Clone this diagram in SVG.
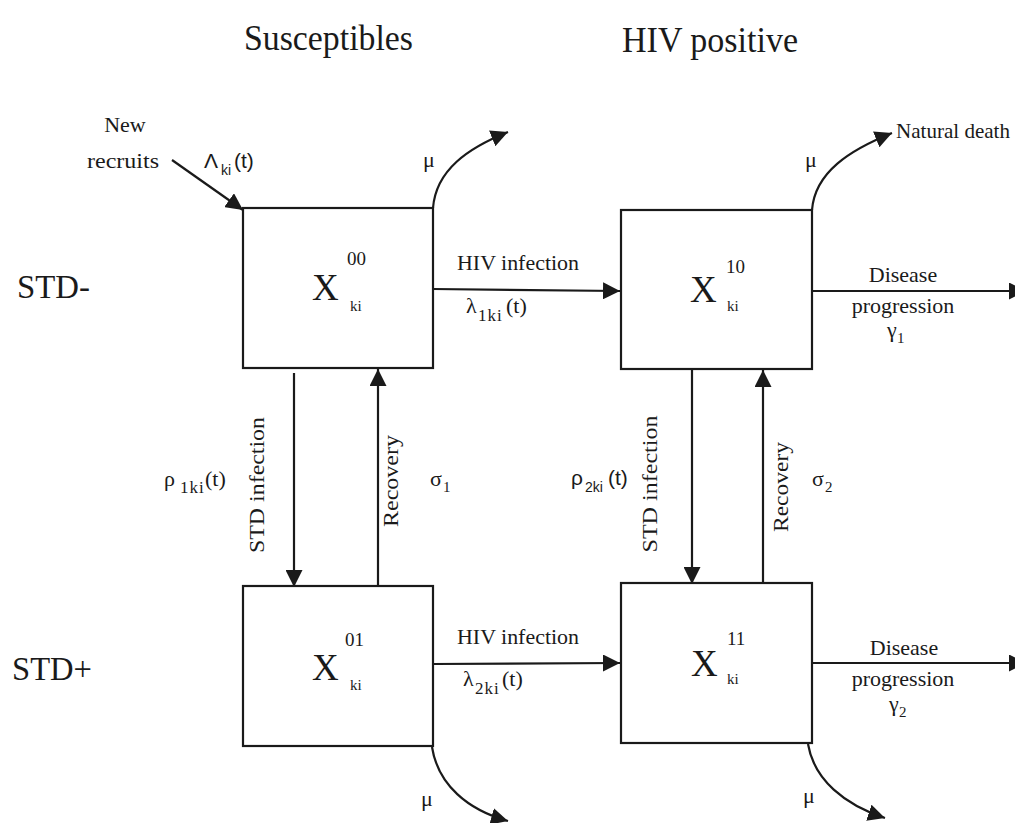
<svg xmlns="http://www.w3.org/2000/svg" width="1015" height="823" viewBox="0 0 1015 823">
<style>
  .box { fill: #ffffff; stroke: #1a1a1a; stroke-width: 2.2; }
  .ln { fill: none; stroke: #1a1a1a; stroke-width: 2.2; }
  .arr { marker-end: url(#ah); }
  text { fill: #1a1a1a; font-family: "Liberation Serif", "Times New Roman", serif; }
  .sans { font-family: "Liberation Sans", Arial, sans-serif; }
  .head { font-size: 35px; }
  .row { font-size: 34px; }
  .lbl { font-size: 22px; }
  .X { font-size: 37px; }
  .sup { font-size: 19px; }
  .sub { font-size: 15px; }
  .sub2 { font-size: 17px; letter-spacing: 1px; }
  .mid { text-anchor: middle; }
</style>
<defs>
  <marker id="ah" markerUnits="userSpaceOnUse" markerWidth="18" markerHeight="17" refX="17" refY="8.5" orient="auto">
    <path d="M0,0 L17,8.5 L0,17 Z" fill="#1a1a1a"/>
  </marker>
</defs>
<rect width="1015" height="823" fill="#ffffff"/>

<!-- headings -->
<text class="head" x="244" y="50" textLength="169" lengthAdjust="spacingAndGlyphs">Susceptibles</text>
<text class="head" x="622" y="52" textLength="176" lengthAdjust="spacingAndGlyphs">HIV positive</text>
<text class="row" x="17" y="298" textLength="73" lengthAdjust="spacingAndGlyphs">STD-</text>
<text class="row" x="12" y="680" textLength="80" lengthAdjust="spacingAndGlyphs">STD+</text>

<!-- connectors -->
<g id="connectors">
  <line class="ln arr" x1="172" y1="160" x2="243" y2="210"/>
  <path class="ln arr" d="M433,208 C436,170 468,148 508,132"/>
  <path class="ln arr" d="M812,210 C815,172 850,150 892,133"/>
  <path class="ln arr" d="M432,747 C438,785 468,810 508,821"/>
  <path class="ln arr" d="M808,744 C814,780 845,805 885,818"/>
  <line class="ln arr" x1="433" y1="289" x2="620" y2="291"/>
  <line class="ln arr" x1="433" y1="664" x2="620" y2="663"/>
  <line class="ln arr" x1="812" y1="291" x2="1026" y2="291"/>
  <line class="ln arr" x1="812" y1="663" x2="1026" y2="663"/>
  <line class="ln arr" x1="294" y1="373" x2="294" y2="587"/>
  <line class="ln arr" x1="378" y1="586" x2="378" y2="369"/>
  <line class="ln arr" x1="692" y1="369" x2="692" y2="584"/>
  <line class="ln arr" x1="763" y1="584" x2="763" y2="370"/>
</g>

<!-- nodes -->
<g id="box00">
  <rect class="box" x="243" y="208" width="190" height="160"/>
  <text class="X" x="312" y="300">X</text>
  <text class="sup" x="347" y="265">00</text>
  <text class="sub" x="350" y="311">ki</text>
</g>
<g id="box10">
  <rect class="box" x="621" y="210" width="191" height="159"/>
  <text class="X" x="690" y="302">X</text>
  <text class="sup" x="726" y="273">10</text>
  <text class="sub" x="727" y="311">ki</text>
</g>
<g id="box01">
  <rect class="box" x="243" y="586" width="190" height="160"/>
  <text class="X" x="312" y="680">X</text>
  <text class="sup" x="345" y="646">01</text>
  <text class="sub" x="350" y="690">ki</text>
</g>
<g id="box11">
  <rect class="box" x="621" y="583" width="191" height="160"/>
  <text class="X" x="691" y="676">X</text>
  <text class="sup" x="727" y="645">11</text>
  <text class="sub" x="727" y="684">ki</text>
</g>

<!-- labels -->
<g id="labels">
  <text class="lbl mid" x="125" y="132" font-size="23">New</text>
  <text class="lbl" x="87" y="168" font-size="23" textLength="72" lengthAdjust="spacingAndGlyphs">recruits</text>
  <text class="sans" x="204" y="168" font-size="21">Λ</text>
  <text class="sans" x="221" y="175" font-size="14">ki</text>
  <text class="sans" x="234" y="168" font-size="21">(t)</text>

  <text class="lbl" x="423" y="167">μ</text>
  <text class="lbl" x="805" y="167">μ</text>
  <text class="lbl" x="421" y="806">μ</text>
  <text class="lbl" x="803" y="803">μ</text>
  <text class="lbl" x="896" y="138" textLength="114" lengthAdjust="spacingAndGlyphs">Natural death</text>

  <text class="lbl" x="457" y="270" textLength="122" lengthAdjust="spacingAndGlyphs">HIV infection</text>
  <text class="lbl" x="466" y="313">λ</text>
  <text class="sub2" x="478" y="321">1ki</text>
  <text class="lbl" x="506" y="313">(t)</text>

  <text class="lbl" x="457" y="644" textLength="122" lengthAdjust="spacingAndGlyphs">HIV infection</text>
  <text class="lbl" x="463" y="686">λ</text>
  <text class="sub2" x="475" y="694">2ki</text>
  <text class="lbl" x="502" y="686">(t)</text>

  <text class="lbl mid" x="903" y="282">Disease</text>
  <text class="lbl mid" x="903" y="313">progression</text>
  <text class="lbl" x="887" y="337">γ</text>
  <text class="sub" x="897" y="343">1</text>

  <text class="lbl mid" x="904" y="655">Disease</text>
  <text class="lbl mid" x="903" y="686">progression</text>
  <text class="lbl" x="889" y="711">γ</text>
  <text class="sub" x="899" y="717">2</text>

  <text class="lbl mid" transform="translate(264,485) rotate(-90)" textLength="136" lengthAdjust="spacingAndGlyphs">STD infection</text>
  <text class="lbl mid" transform="translate(398,481) rotate(-90)" textLength="92" lengthAdjust="spacingAndGlyphs">Recovery</text>
  <text class="lbl mid" transform="translate(657,484) rotate(-90)" textLength="137" lengthAdjust="spacingAndGlyphs">STD infection</text>
  <text class="lbl mid" transform="translate(788,487) rotate(-90)" textLength="90" lengthAdjust="spacingAndGlyphs">Recovery</text>

  <text class="lbl" x="164" y="486">ρ</text>
  <text class="sub2" x="180" y="493">1ki</text>
  <text class="lbl" x="205" y="486">(t)</text>
  <text class="lbl" x="430" y="486">σ</text>
  <text class="sub" x="443" y="492">1</text>

  <text class="sans" x="571" y="485" font-size="21">ρ</text>
  <text class="sans" x="585" y="492" font-size="14">2ki</text>
  <text class="sans" x="608" y="485" font-size="21">(t)</text>
  <text class="lbl" x="812" y="486">σ</text>
  <text class="sub" x="825" y="492">2</text>
</g>
</svg>
